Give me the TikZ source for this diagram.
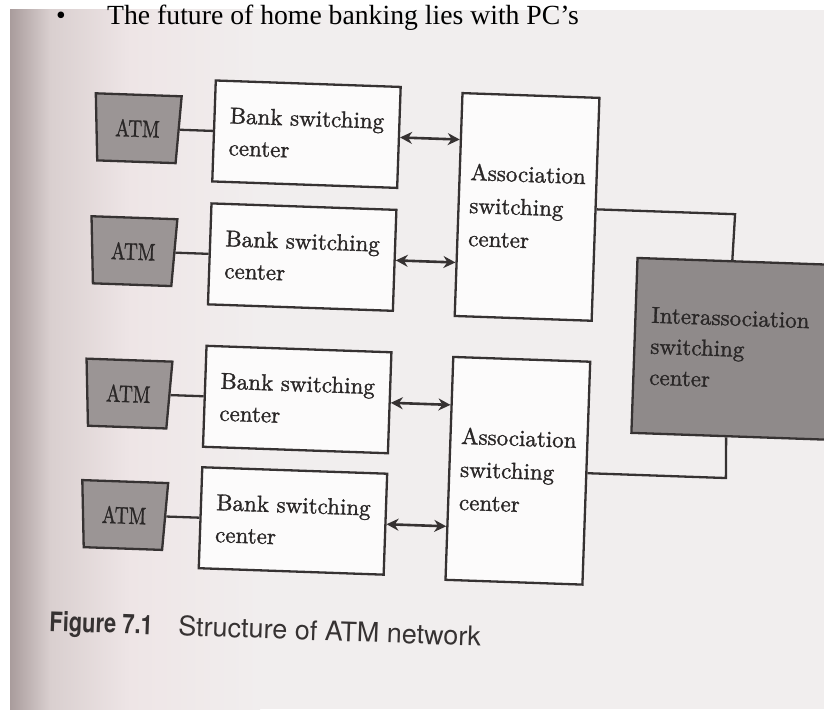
\documentclass[tikz,border=0pt]{standalone}
\usepackage{graphicx}
\usepackage{fontspec}
\newfontfamily\timesf{Liberation Serif}
\newfontfamily\capf{TeX Gyre Heros}
\newfontfamily\boxf{lmroman10-regular.otf}[FakeBold=1.3]
\usetikzlibrary{arrows.meta,shapes.geometric}
\definecolor{ink}{HTML}{363232}
\definecolor{txt}{HTML}{2A2727}
\definecolor{capink}{HTML}{363232}
\definecolor{page}{HTML}{F1EEEE}
\definecolor{pageedge}{HTML}{A99C9C}
\definecolor{pagemid}{HTML}{D9CFCF}
\definecolor{pagepink}{HTML}{EEE5E6}
\definecolor{boxfill}{HTML}{FCFBFB}
\definecolor{gfill}{HTML}{8F8A8A}
\definecolor{atmfill}{HTML}{9B9595}
\begin{document}
\begin{tikzpicture}[x=1pt,y=-1pt,
  bankbox/.style={draw=ink, line width=2.3pt, fill=boxfill, minimum width=185pt, minimum height=101pt, align=left, inner sep=0pt, text=txt, font=\boxf\fontsize{23}{32}\selectfont},
  assocbox/.style={draw=ink, line width=2.3pt, fill=boxfill, minimum width=137pt, minimum height=223pt, align=left, inner sep=0pt, text=txt, font=\boxf\fontsize{23}{33}\selectfont},
  atmbox/.style={trapezium, trapezium angle=83, shape border rotate=180, trapezium stretches=true, minimum width=86pt, minimum height=67pt, inner sep=0pt, draw=ink, line width=2.3pt, fill=atmfill, text=txt, font=\boxf\fontsize{24}{24}\selectfont},
  interbox/.style={draw=ink, line width=2.3pt, fill=gfill, minimum width=240pt, minimum height=175pt, text width=208pt, inner xsep=16pt, inner ysep=0pt, align=left, text=txt, font=\boxf\fontsize{23}{31}\selectfont},
  link/.style={draw=ink, line width=2.3pt},
  dbl/.style={draw=ink, line width=2.6pt, <->, >={Stealth[length=12pt,width=12pt]}},
  captext/.style={anchor=base west, inner sep=0pt, text=capink}
]
\useasboundingbox (0,0) rectangle (824,709);
\clip (0,0) rectangle (824,709);
% paper
\fill[white] (0,0) rectangle (824,709);
\fill[page] (10,10) rectangle (824,709);
\shade[left color=pageedge, right color=pagemid] (10,10) rectangle (50,709);
\shade[left color=pagemid, right color=pagepink] (50,10) rectangle (130,709);
\shade[left color=pagepink, right color=page] (130,10) rectangle (260,709);
% heading of the slide
\node[font=\timesf\fontsize{27.7}{30}\selectfont, anchor=base, inner sep=0pt] (bul) at (61,25) {•};
\node[font=\timesf\fontsize{27.7}{30}\selectfont, anchor=base west, inner sep=0pt] (head) at (107,25) {The future of home banking lies with PC’s};
\begin{scope}[rotate around={-2:(412,350)}, transform shape]
  \node[bankbox] (bank1) at (299,138) {Bank switching\\center};
  \node[bankbox] (bank2) at (299,261) {Bank switching\\center};
  \node[bankbox] (bank3) at (299,403.5) {Bank switching\\center};
  \node[bankbox] (bank4) at (299,525) {Bank switching\\center};
  \node[atmbox] (atm1) at (130,138) {\scalebox{0.8}[1]{ATM}};
  \node[atmbox] (atm2) at (130,261) {\scalebox{0.8}[1]{ATM}};
  \node[atmbox] (atm3) at (130,403.5) {\scalebox{0.8}[1]{ATM}};
  \node[atmbox] (atm4) at (130,525) {\scalebox{0.8}[1]{ATM}};
  \node[assocbox] (assoc1) at (522,203) {Association\\switching\\center};
  \node[assocbox] (assoc2) at (522,467) {Association\\switching\\center};
  \node[interbox, anchor=north west] (inter) at (633,249) {Interassociation\\switching\\center};
  \draw[link] (atm1) -- (bank1);
  \draw[link] (atm2) -- (bank2);
  \draw[link] (atm3) -- (bank3);
  \draw[link] (atm4) -- (bank4);
  \draw[dbl] (bank1.east) -- ([yshift=65pt]assoc1.west);
  \draw[dbl] (bank2.east) -- ([yshift=-58pt]assoc1.west);
  \draw[dbl] (bank3.east) -- ([yshift=63.5pt]assoc2.west);
  \draw[dbl] (bank4.east) -- ([yshift=-58pt]assoc2.west);
  \draw[link] (assoc1.east) -- ([xshift=138.5pt]assoc1.east) -- ([xshift=96pt]inter.north west);
  \draw[link] (assoc2.east) -- ([xshift=138.5pt]assoc2.east) -- ([xshift=96pt]inter.south west);
  \node[captext, font=\capf\bfseries\fontsize{27}{30}\selectfont] (figno) at (59,643.5) {\scalebox{0.81}[1]{Figure 7.1}};
  \node[captext, font=\capf\fontsize{27}{30}\selectfont] (figcap) at (188,643.5) {Structure of ATM network};
\end{scope}
\end{tikzpicture}
\end{document}
